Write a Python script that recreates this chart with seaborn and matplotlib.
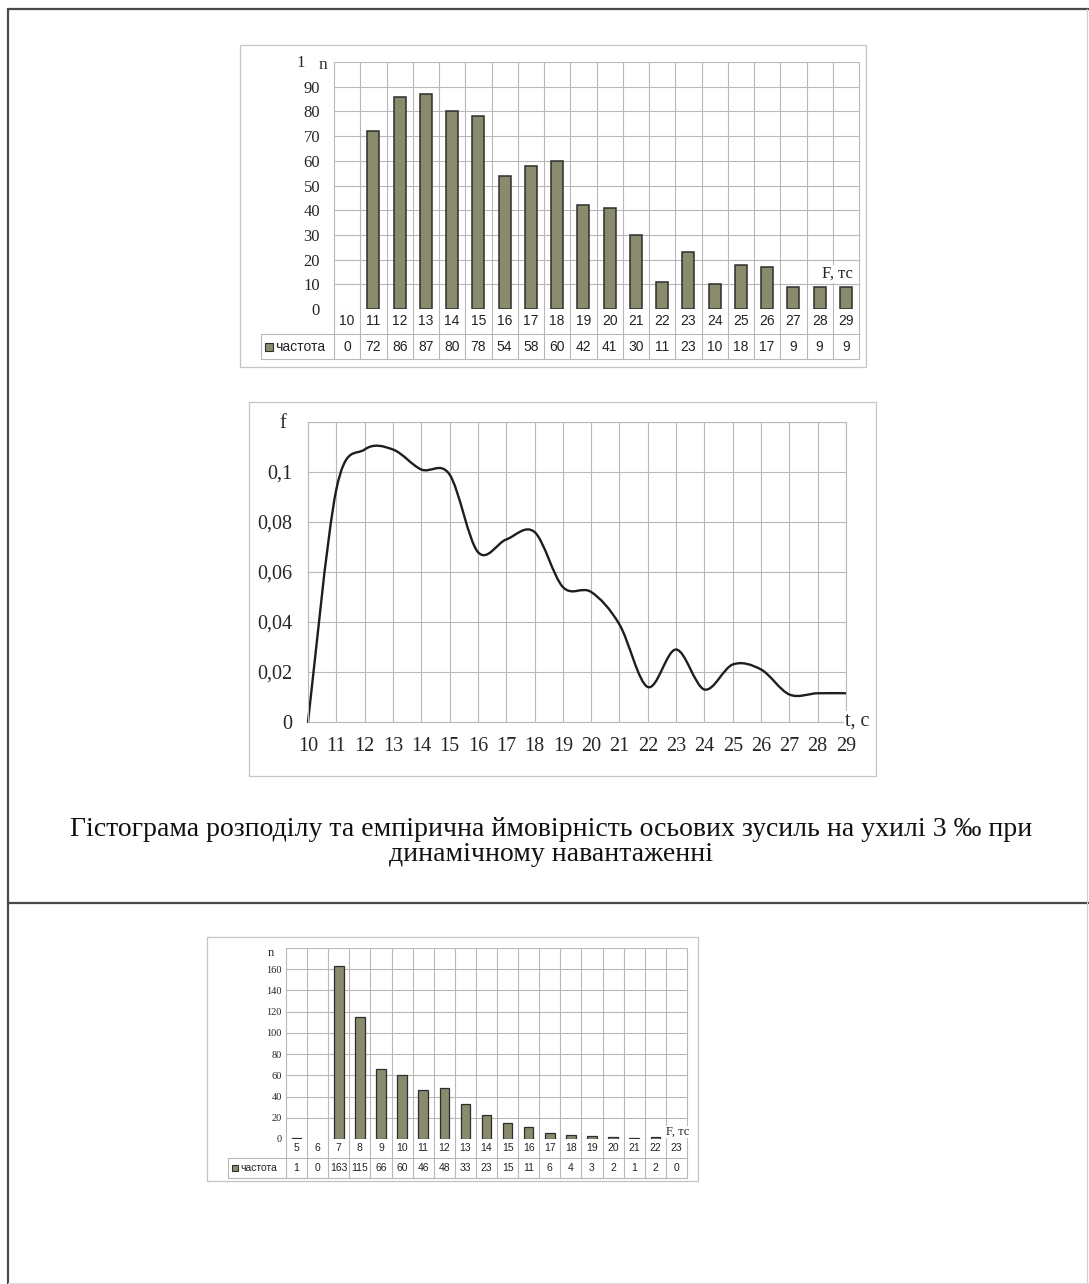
"""
Histogram + empirical probability curve (axial forces, 3 ‰ slope)
"""

import numpy as np
import pandas as pd
import matplotlib
matplotlib.use("Agg")
import matplotlib.pyplot as plt
import matplotlib.transforms as mtransforms
from matplotlib.patches import Rectangle, PathPatch
from matplotlib.lines import Line2D
from matplotlib.path import Path
import seaborn as sns

sns.set_style("white")
SERIF = ["Liberation Serif", "DejaVu Serif"]
SANS = ["Liberation Sans", "DejaVu Sans"]
plt.rcParams["font.family"] = SERIF

BAR = "#8a8a6c"
EDGE = "#2e2e2e"
GRID = "#b8b8b8"
BOX = "#c4c4c4"
FRAME = "#4a4a4a"

# ── data ─────────────────────────────────────────────────────────────────────
top_cats = ["10", "11", "12", "13", "14", "15", "16", "17", "18", "19",
            "20", "21", "22", "23", "24", "25", "26", "27", "28", "29"]
top_freq = [0, 72, 86, 87, 80, 78, 54, 58, 60, 42, 41, 30, 11, 23, 10, 18, 17, 9, 9, 9]

curve_t = [10, 11, 12, 13, 14, 15, 16, 17, 18, 19,
           20, 21, 22, 23, 24, 25, 26, 27, 28, 29]
curve_f = [0.0, 0.093, 0.109, 0.109, 0.101, 0.099, 0.068, 0.073, 0.076, 0.054,
           0.052, 0.039, 0.014, 0.029, 0.013, 0.023, 0.021, 0.011, 0.0115, 0.0115]
curve_yticks = [0, 0.02, 0.04, 0.06, 0.08, 0.1, 0.12]
curve_ylabels = ["0", "0,02", "0,04", "0,06", "0,08", "0,1", ""]

bot_cats = ["5", "6", "7", "8", "9", "10", "11", "12", "13", "14",
            "15", "16", "17", "18", "19", "20", "21", "22", "23"]
bot_freq = [1, 0, 163, 115, 66, 60, 46, 48, 33, 23, 15, 11, 6, 4, 3, 2, 1, 2, 0]

caption = ("Гістограма розподілу та емпірична ймовірність осьових зусиль на ухилі 3 ‰ при\n"
           "динамічному навантаженні")

W, H = 1089, 1284
fig = plt.figure(figsize=(W / 100, H / 100), dpi=100)


def fx(x):
    return x / W


def fy(y):
    return 1 - y / H


def axes_px(left, top, right, bottom):
    return fig.add_axes([fx(left), fy(bottom), (right - left) / W, (bottom - top) / H])


def fig_line(x0, y0, x1, y1, color, lw):
    fig.add_artist(Line2D([fx(x0), fx(x1)], [fy(y0), fy(y1)], color=color,
                          linewidth=lw, transform=fig.transFigure))


def box(left, top, right, bottom, color, lw):
    fig.add_artist(Rectangle((fx(left), fy(bottom)), (right - left) / W, (bottom - top) / H,
                             transform=fig.transFigure, fill=False,
                             edgecolor=color, linewidth=lw))


def bar_chart(rect, cats, freq, ymax, ystep, tab, key_left, fs_tick, fs_tab, pad, lw):
    left, top, right, bottom = rect
    ax = axes_px(left, top, right, bottom)
    df = pd.DataFrame({"F": cats, "n": freq})
    sns.barplot(data=df[df["n"] > 0], x="F", y="n", order=cats, color=BAR,
                edgecolor=EDGE, linewidth=lw, width=0.45, saturation=1, ax=ax)
    ax.set_xlim(-0.5, len(cats) - 0.5)
    ax.set_ylim(0, ymax)
    ax.set_yticks(np.arange(0, ymax + 1, ystep))
    ax.set_yticklabels([str(int(v)) for v in np.arange(0, ymax, ystep)] + [""],
                       fontsize=fs_tick, family=SERIF)
    ax.set_xticks([])
    ax.set_xlabel(""); ax.set_ylabel("")
    ax.tick_params(axis="y", length=0, pad=pad)
    ax.yaxis.grid(True, color=GRID, linewidth=0.8)
    ax.set_axisbelow(True)
    for s in ax.spines.values():
        s.set_visible(False)

    # table under the plot: categories row + "частота" row
    row1, mid, row2, tab_bottom = tab
    trans = mtransforms.blended_transform_factory(ax.transData, fig.transFigure)
    for i in range(len(cats) + 1):
        ax.plot([i - 0.5, i - 0.5], [fy(top), fy(tab_bottom)], transform=trans,
                color=GRID, linewidth=0.8, clip_on=False, zorder=0)
    for i, (c, v) in enumerate(zip(cats, freq)):
        ax.text(i, fy(row1), c, transform=trans, ha="center", va="center",
                fontsize=fs_tab, family=SANS, color="#222222")
        ax.text(i, fy(row2), str(v), transform=trans, ha="center", va="center",
                fontsize=fs_tab, family=SANS, color="#222222")
    fig_line(key_left, mid, right, mid, GRID, 0.8)
    fig_line(key_left, tab_bottom, right, tab_bottom, GRID, 0.8)
    fig_line(key_left, mid, key_left, tab_bottom, GRID, 0.8)
    k = fs_tab * 0.8
    fig.add_artist(Rectangle((fx(key_left + 4), fy(row2 + k / 2)), k / W, k / H,
                             transform=fig.transFigure, facecolor=BAR,
                             edgecolor=EDGE, linewidth=0.8))
    fig.text(fx(key_left + 6 + k), fy(row2), "частота", ha="left", va="center",
             fontsize=fs_tab, family=SANS, color="#222222")
    return ax


# ── frame of the page ────────────────────────────────────────────────────────
fig_line(8, 9, 1089, 9, FRAME, 1.6)
fig_line(8, 9, 8, 1284, FRAME, 1.6)
fig_line(8, 903, 1089, 903, FRAME, 1.6)
fig_line(1087, 9, 1087, 1284, "#d0d0d0", 0.8)
fig_line(8, 1283, 1089, 1283, "#dddddd", 0.8)

# ── chart 1: histogram ───────────────────────────────────────────────────────
box(240, 45, 866, 367, BOX, 0.9)
bar_chart((334, 62, 859, 309), top_cats, top_freq, 100, 10,
          (321, 334, 347, 359), 261, 12, 10, 10, 1.1)
fig.text(fx(296), fy(63), "1", ha="left", va="center", fontsize=12, family=SERIF)
fig.text(fx(319), fy(65), "n", ha="left", va="center", fontsize=12.5, family=SERIF)
fig.text(fx(822), fy(274), "F, тс", ha="left", va="center", fontsize=12, family=SERIF,
         bbox=dict(facecolor="white", edgecolor="none", pad=0.5))

# ── chart 2: empirical probability curve ─────────────────────────────────────
box(249, 402, 876, 776, BOX, 0.9)
ax2 = axes_px(308, 422, 846, 722)
ax2.set_xlim(curve_t[0], curve_t[-1])
ax2.set_ylim(0, 0.12)
ax2.set_xticks(curve_t)
ax2.set_xticklabels([str(t) for t in curve_t], fontsize=14.5, family=SERIF)
ax2.set_yticks(curve_yticks)
ax2.set_yticklabels(curve_ylabels, fontsize=14.5, family=SERIF)
ax2.tick_params(length=0)
ax2.tick_params(axis="y", pad=11)
ax2.tick_params(axis="x", pad=11)
ax2.grid(True, color=GRID, linewidth=0.8)
for s in ax2.spines.values():
    s.set_color(GRID); s.set_linewidth(0.8)

# smoothed line through the points (Catmull-Rom as cubic Bezier, like Excel)
pts = np.column_stack([curve_t, curve_f])
verts, codes = [pts[0]], [Path.MOVETO]
for i in range(len(pts) - 1):
    p0 = pts[max(i - 1, 0)]; p1 = pts[i]; p2 = pts[i + 1]; p3 = pts[min(i + 2, len(pts) - 1)]
    verts += [p1 + (p2 - p0) / 6, p2 - (p3 - p1) / 6, p2]
    codes += [Path.CURVE4] * 3
ax2.add_patch(PathPatch(Path(verts, codes), fill=False, edgecolor="#1e1e1e",
                        linewidth=1.7, capstyle="round", joinstyle="round", clip_on=False))

fig.text(fx(283), fy(424), "f", ha="center", va="center", fontsize=14.5, family=SERIF)
fig.text(fx(845), fy(721), "t, c", ha="left", va="center", fontsize=14.5, family=SERIF,
         bbox=dict(facecolor="white", edgecolor="none", pad=0.5))

# ── caption ──────────────────────────────────────────────────────────────────
fig.text(fx(551), fy(842), caption, ha="center", va="center", fontsize=20,
         family=SERIF, linespacing=1.05, color="#111111")

# ── chart 3: second histogram ────────────────────────────────────────────────
box(207, 937, 698, 1181, BOX, 0.9)
bar_chart((286, 948, 687, 1139), bot_cats, bot_freq, 180, 20,
          (1148, 1158, 1168, 1178), 228, 7.5, 7.5, 3, 0.9)
fig.text(fx(271), fy(953), "n", ha="center", va="center", fontsize=9, family=SERIF)
fig.text(fx(666), fy(1132), "F, тс", ha="left", va="center", fontsize=9, family=SERIF,
         bbox=dict(facecolor="white", edgecolor="none", pad=0.3))

fig.savefig("out.png", dpi=100, facecolor="white")
